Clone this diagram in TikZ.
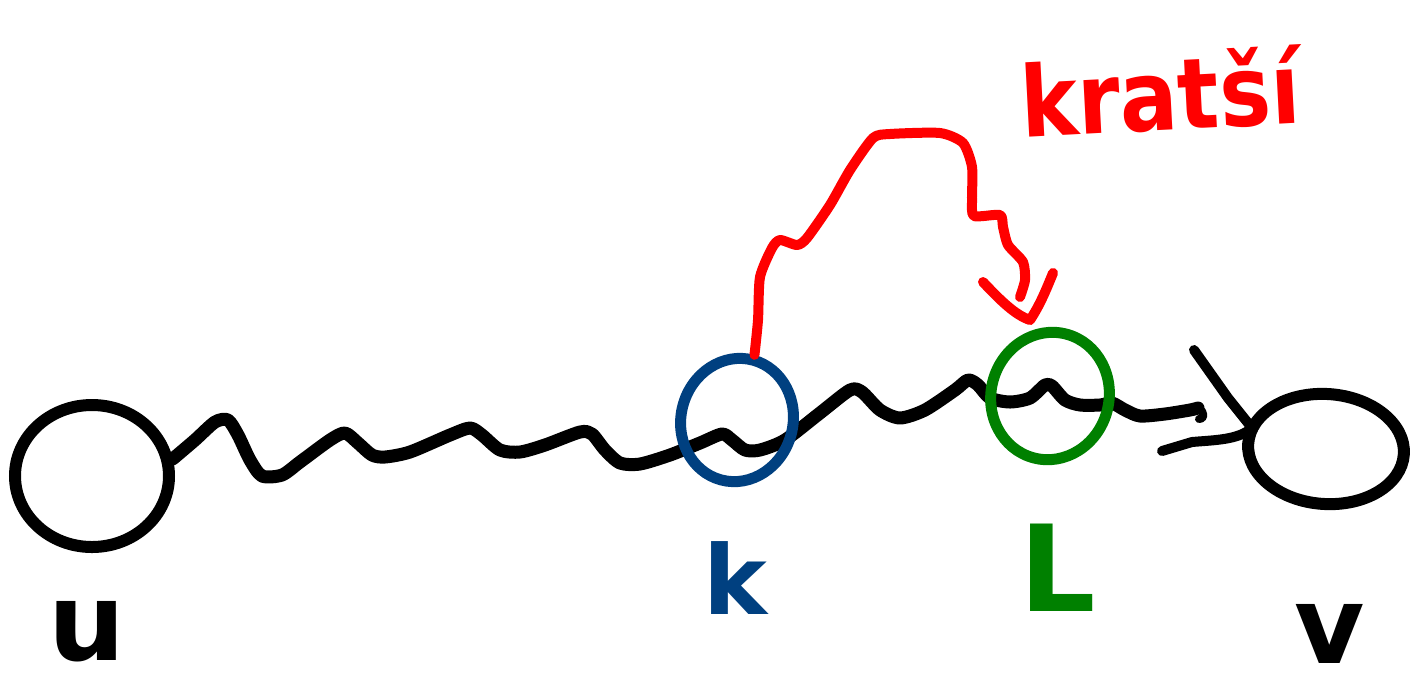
\documentclass[tikz,border=0pt]{standalone}
\usepackage{fontspec}
\setmainfont{DejaVu Sans}
\usetikzlibrary{shapes.geometric}
\definecolor{kblue}{RGB}{0,64,128}
\definecolor{lgreen}{RGB}{0,128,0}
\definecolor{hred}{RGB}{255,0,0}
\begin{document}
\begin{tikzpicture}[x=0.5pt,y=-0.5pt,
  ink/.style={line width=6.5pt, line cap=round, line join=round},
  ring/.style={ellipse, draw, inner sep=0pt, line width=5.5pt},
  lab/.style={inner sep=0pt, font=\bfseries\fontsize{#1}{#1}\selectfont}]
\useasboundingbox[fill=white] (0,0) rectangle (1416,692);

% end vertices
\node[ring, line width=6pt, minimum width=77pt, minimum height=71pt] (u) at (92,476) {};
\node[ring, line width=6pt, minimum width=78pt, minimum height=55pt, rotate=-4] (v) at (1326,449) {};

% the long wavy path from u towards v
\draw[ink] plot[smooth, tension=0.45] coordinates {
  (u.12) (195,440) (215,422) (228,420) (238,435) (250,460) (262,476) (282,475)
  (300,462) (330,440) (345,433) (358,443) (372,455) (385,457) (410,452)
  (450,435) (470,428) (482,435) (500,450) (520,452) (545,445) (580,432)
  (592,434) (605,450) (620,463) (640,464) (670,455) (700,443) (722,434)
  (732,440) (745,450) (760,450) (785,440) (820,413) (850,390) (862,392)
  (880,410) (900,418) (925,410) (955,390) (968,380) (978,385) (990,398)
  (1010,402) (1030,398) (1045,385) (1052,386) (1065,400) (1080,405)
  (1100,405) (1112,403) (1125,410) (1140,416) (1165,414) (1190,410) (1198,408)}
  coordinate (wend);
\draw[ink, line width=4pt] (wend) .. controls (1206,412) and (1204,420) .. (1199,419);

% last edge entering v
\draw[ink, line width=5pt] (1194,350) -- (1228,398) -- (1252,428)
  .. controls (1238,440) and (1215,440) .. (1192,442) -- (1162,451);

% marked vertices k and L
\node[ring, draw=kblue, minimum width=56pt, minimum height=62pt, rotate=-15] (k) at (737,420) {};
\node[ring, draw=lgreen, minimum width=59pt, minimum height=64pt, rotate=-15] (L) at (1050,396) {};

% shortcut from k to L
\coordinate (tip) at (1020,297);
\draw[ink, hred, line width=5pt] plot[smooth, tension=0.4] coordinates {
  (k.north) (758,320) (760,277) (772,248) (780,240) (797,245) (807,238)
  (830,205) (850,170) (873,138) (890,134) (940,133) (963,143) (972,167)
  (972,200) (974,216) (1000,215) (1003,227) (1008,245) (1023,262) (1025,280) (tip)};
\draw[ink, hred, line width=5pt] (983,282) .. controls (1000,300) and (1015,315) .. (1030,320)
  .. controls (1040,305) and (1046,290) .. (1053,273);

% labels
\node[inner sep=0pt, hred, rotate=3, xscale=0.88, font=\bfseries\fontsize{49}{49}\selectfont] at (1160,92) {kratší};
\node[lab=54] at (87,632) {u};
\node[lab=48, kblue] at (735,578) {k};
\node[lab=60, lgreen] at (1058,568) {L};
\node[lab=54] at (1330,634) {v};
\end{tikzpicture}
\end{document}
